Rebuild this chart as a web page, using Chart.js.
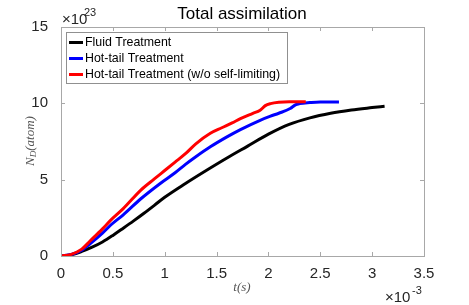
<!DOCTYPE html>
<html>
<head>
<meta charset="utf-8">
<script src="https://cdn.jsdelivr.net/npm/chart.js@4.4.0/dist/chart.umd.min.js"></script>
<style>
  body { margin: 0; background: #fff; }
  canvas { display: block; }
</style>
</head>
<body>
<canvas id="chart" width="469" height="305"></canvas>
<script>
// time in units of 1e-3 s, N_D in units of 1e23 atoms
const fluidTime = [0, 0.1, 0.2, 0.3, 0.4, 0.5, 0.6, 0.7, 0.8, 0.9, 1.0, 1.2, 1.4, 1.6, 1.8, 2.0, 2.2, 2.4, 2.6, 2.8, 3.0, 3.12];
const fluidValues = [0, 0.08, 0.3, 0.58, 0.92, 1.35, 1.82, 2.3, 2.8, 3.32, 3.85, 4.75, 5.6, 6.42, 7.2, 7.98, 8.62, 9.05, 9.35, 9.56, 9.72, 9.81];

const hotTime = [0, 0.1, 0.2, 0.28, 0.4, 0.48, 0.6, 0.77, 0.96, 1.1, 1.2, 1.3, 1.44, 1.6, 1.73, 1.92, 2.02, 2.1, 2.21, 2.26, 2.3, 2.4, 2.5, 2.68];
const hotValues = [0, 0.1, 0.38, 0.8, 1.5, 2.03, 2.7, 3.75, 4.77, 5.45, 6.0, 6.5, 7.15, 7.8, 8.28, 8.89, 9.16, 9.35, 9.66, 9.9, 9.98, 10.05, 10.09, 10.09];

const hotNoLimTime = [0, 0.1, 0.2, 0.28, 0.4, 0.48, 0.6, 0.77, 0.9, 1.0, 1.1, 1.2, 1.3, 1.44, 1.55, 1.65, 1.73, 1.85, 1.92, 1.97, 2.02, 2.1, 2.2, 2.36];
const hotNoLimValues = [0, 0.11, 0.45, 0.98, 1.78, 2.35, 3.1, 4.32, 5.05, 5.6, 6.15, 6.7, 7.35, 8.04, 8.4, 8.72, 9.0, 9.35, 9.55, 9.85, 9.98, 10.07, 10.1, 10.1];

const seriesNames = ['Fluid Treatment', 'Hot-tail Treatment', 'Hot-tail Treatment (w/o self-limiting)'];
const xTicks = [0, 0.5, 1, 1.5, 2, 2.5, 3, 3.5];
const yTicks = [0, 5, 10, 15];

const sansFont = '"Liberation Sans", Arial, sans-serif';
const serifFont = '"Liberation Serif", "DejaVu Serif", serif';

function toPoints(xs, ys) {
    return xs.map((x, i) => ({ x: x, y: ys[i] }));
}

// box, inward ticks, legend, title and exponent labels
const decorations = {
    id: 'decorations',
    afterDraw(chart) {
        const ctx = chart.ctx;
        const area = chart.chartArea;
        const xs = chart.scales.x;
        const ys = chart.scales.y;

        ctx.save();
        ctx.strokeStyle = '#a8a8a8';
        ctx.lineWidth = 1;
        ctx.strokeRect(area.left + 0.5, area.top + 0.5, area.right - area.left, area.bottom - area.top);

        ctx.beginPath();
        xTicks.forEach(v => {
            const px = Math.round(xs.getPixelForValue(v)) + 0.5;
            ctx.moveTo(px, area.bottom);
            ctx.lineTo(px, area.bottom - 4);
            ctx.moveTo(px, area.top);
            ctx.lineTo(px, area.top + 4);
        });
        yTicks.forEach(v => {
            const py = Math.round(ys.getPixelForValue(v)) + 0.5;
            ctx.moveTo(area.left, py);
            ctx.lineTo(area.left + 4, py);
            ctx.moveTo(area.right, py);
            ctx.lineTo(area.right - 4, py);
        });
        ctx.stroke();

        // legend
        const lx = area.left + 5, ly = area.top + 5, lw = 221, lh = 51;
        ctx.fillStyle = '#fff';
        ctx.fillRect(lx, ly, lw, lh);
        ctx.strokeStyle = '#909090';
        ctx.strokeRect(lx + 0.5, ly + 0.5, lw, lh);
        ctx.font = '12.4px ' + sansFont;
        ctx.textBaseline = 'middle';
        chart.data.datasets.forEach((ds, i) => {
            const rowY = ly + 10.5 + i * 16;
            ctx.strokeStyle = ds.borderColor;
            ctx.lineWidth = 3;
            ctx.beginPath();
            ctx.moveTo(lx + 3, rowY);
            ctx.lineTo(lx + 17, rowY);
            ctx.stroke();
            ctx.fillStyle = '#000';
            ctx.textAlign = 'left';
            ctx.fillText(ds.label, lx + 19, rowY);
        });

        // title
        ctx.fillStyle = '#000';
        ctx.textAlign = 'center';
        ctx.textBaseline = 'middle';
        ctx.font = '17px ' + sansFont;
        ctx.fillText('Total assimilation', 242, 14);

        // exponents
        ctx.fillStyle = '#262626';
        ctx.textAlign = 'left';
        ctx.textBaseline = 'alphabetic';
        ctx.font = '15px ' + sansFont;
        ctx.fillText('\u00d710', 62, 24);
        ctx.font = '11px ' + sansFont;
        ctx.fillText('23', 84, 16);
        ctx.font = '15px ' + sansFont;
        ctx.fillText('\u00d710', 385, 302);
        ctx.font = '11px ' + sansFont;
        ctx.fillText('-3', 412, 294);

        // axis labels
        ctx.fillStyle = '#555';
        ctx.font = 'italic 13px ' + serifFont;
        ctx.textAlign = 'center';
        ctx.textBaseline = 'middle';
        ctx.fillText('t(s)', 242, 288);

        ctx.translate(31, 141);
        ctx.rotate(-Math.PI / 2);
        ctx.textAlign = 'left';
        const w1 = ctx.measureText('N').width;
        ctx.font = 'italic 9px ' + serifFont;
        const w2 = ctx.measureText('D').width;
        ctx.font = 'italic 13px ' + serifFont;
        const w3 = ctx.measureText('(atom)').width;
        let x0 = -(w1 + w2 + w3) / 2;
        ctx.fillText('N', x0, 0);
        ctx.font = 'italic 9px ' + serifFont;
        ctx.fillText('D', x0 + w1, 3);
        ctx.font = 'italic 13px ' + serifFont;
        ctx.fillText('(atom)', x0 + w1 + w2, 0);
        ctx.restore();
    }
};

new Chart(document.getElementById('chart'), {
    type: 'line',
    data: {
        datasets: [
            { label: seriesNames[0], data: toPoints(fluidTime, fluidValues), borderColor: '#000000', order: 3 },
            { label: seriesNames[1], data: toPoints(hotTime, hotValues), borderColor: '#0000ff', order: 2 },
            { label: seriesNames[2], data: toPoints(hotNoLimTime, hotNoLimValues), borderColor: '#ff0000', order: 1 }
        ]
    },
    options: {
        responsive: false,
        animation: false,
        events: [],
        layout: { padding: { top: 27, right: 45, left: 0, bottom: 0 } },
        elements: {
            point: { radius: 0 },
            line: { borderWidth: 3, cubicInterpolationMode: 'monotone', fill: false }
        },
        plugins: { legend: { display: false }, title: { display: false }, tooltip: { enabled: false } },
        scales: {
            x: {
                type: 'linear',
                min: 0, max: 3.5,
                grid: { display: false },
                border: { display: false },
                afterBuildTicks: s => { s.ticks = xTicks.map(v => ({ value: v })); },
                afterFit: s => { s.height = 49; },
                ticks: {
                    color: '#262626',
                    font: { family: sansFont, size: 15 },
                    padding: 1,
                    maxRotation: 0,
                    callback: v => String(v)
                }
            },
            y: {
                type: 'linear',
                min: 0, max: 15,
                grid: { display: false },
                border: { display: false },
                afterBuildTicks: s => { s.ticks = yTicks.map(v => ({ value: v })); },
                afterFit: s => { s.width = 61; },
                ticks: {
                    color: '#262626',
                    font: { family: sansFont, size: 15 },
                    padding: 5,
                    callback: v => String(v)
                }
            }
        }
    },
    plugins: [decorations]
});
</script>
</body>
</html>
